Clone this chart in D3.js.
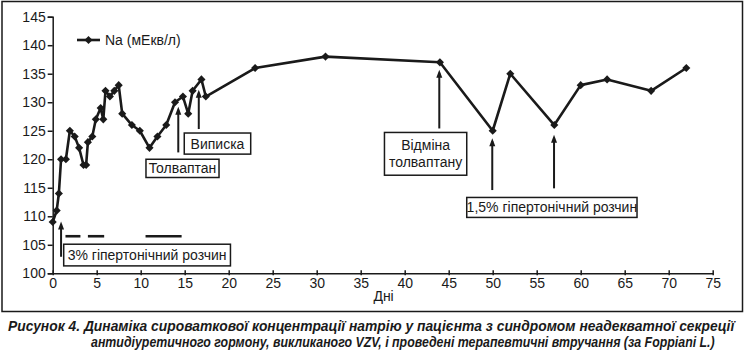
<!DOCTYPE html>
<html>
<head>
<meta charset="utf-8">
<script src="https://cdn.jsdelivr.net/npm/d3@7"></script>
<style>
  html, body { margin: 0; padding: 0; background: #fff; }
  svg { display: block; }
  text { font-family: "Liberation Sans", Arial, sans-serif; fill: #1a1a1a; }
</style>
</head>
<body>
<svg id="chart" width="747" height="356"></svg>
<script>
// ---- data ----
const days = [0,0.45,0.7,0.95,1.5,1.95,2.5,3,3.5,3.8,4,4.5,4.9,5.45,5.75,6,6.5,7,7.5,7.9,9,9.9,11,11.9,12.9,13.9,14.8,15.4,15.9,16.9,17.4,23,31,44,50,52,57,60,63,68,72];
const na   = [109,111,114,120,120,125,124,122,119,119,123,124,127,129,127,132,131,132,133,128,126,125,122,124,126,130,131,128,132,134,131,136,138,137,125,135,126,133,134,132,136];
const xTicks = [0,5,10,15,20,25,30,35,40,45,50,55,60,65,70,75];
const yTicks = [100,105,110,115,120,125,130,135,140,145];
const seriesName = "Na (мЕкв/л)";
const xTitle = "Дні";
const boxLabels = ["3% гіпертонічний розчин", "Толвaптан", "Виписка", ["Відміна", "толваптану"], "1,5% гіпертонічний розчин"];
const caption = [
  "Рисунок 4. Динаміка сироваткової концентрації натрію у пацієнта з синдромом неадекватної секреції",
  "антидіуретичного гормону, викликаного VZV, і проведені терапевтичні втручання (за Foppiani L.)"
];

const svg = d3.select("#chart");
const ink = "#1a1a1a";

// outer frame
svg.append("rect").attr("x", 2).attr("y", 1.5).attr("width", 740.5).attr("height", 310)
  .attr("fill", "none").attr("stroke", ink).attr("stroke-width", 1.5);

const x = d3.scaleLinear().domain([0, 75]).range([52.7, 712.7]);
const y = d3.scaleLinear().domain([100, 145]).range([273.3, 16.7]);

// axes
const yAxis = d3.axisLeft(y).tickValues(yTicks).tickSize(5).tickPadding(2);
const gy = svg.append("g").attr("transform", `translate(${x(0)},0)`).call(yAxis);
gy.select(".domain").attr("stroke", ink).attr("stroke-width", 1.5);
gy.selectAll(".tick line").attr("stroke", ink).attr("stroke-width", 1.5);
gy.selectAll(".tick text").attr("font-size", 14).attr("fill", ink)
  .style("font-family", "Liberation Sans, Arial, sans-serif");

const xAxis = d3.axisBottom(x).tickValues(xTicks).tickSize(0).tickPadding(5);
const gx = svg.append("g").attr("transform", `translate(0,${y(100)})`).call(xAxis);
gx.select(".domain").attr("stroke", ink).attr("stroke-width", 1.5);
gx.selectAll(".tick").append("line").attr("y1", -3).attr("y2", 2).attr("stroke", ink).attr("stroke-width", 1.5);
gx.selectAll(".tick text").attr("font-size", 14).attr("fill", ink)
  .style("font-family", "Liberation Sans, Arial, sans-serif");

svg.append("text").attr("x", (x(36.5)+x(38.7))/2).attr("y", 301).attr("text-anchor", "middle")
  .attr("font-size", 14).text(xTitle);

// series
const pts = days.map((d, i) => [d, na[i]]);
const line = d3.line().x(d => x(d[0])).y(d => y(d[1]));
svg.append("path").datum(pts).attr("d", line).attr("fill", "none")
  .attr("stroke", ink).attr("stroke-width", 2.6).attr("stroke-linejoin", "round");
const diamond = d3.symbol().type(d3.symbolDiamond2).size(42);
svg.append("g").selectAll("path").data(pts).join("path")
  .attr("transform", d => `translate(${x(d[0])},${y(d[1])})`)
  .attr("d", diamond).attr("fill", ink);

// legend
svg.append("line").attr("x1", 77).attr("x2", 100).attr("y1", 40).attr("y2", 40)
  .attr("stroke", ink).attr("stroke-width", 2.6);
svg.append("path").attr("transform", "translate(88.5,40)").attr("d", diamond).attr("fill", ink);
svg.append("text").attr("x", 105).attr("y", 45).attr("font-size", 14).text(seriesName);

// annotation helpers
function arrow(day, v0, v1) {
  const xx = x(day), yb = y(v0), yt = y(v1);
  svg.append("line").attr("x1", xx).attr("x2", xx).attr("y1", yb).attr("y2", yt + 3)
    .attr("stroke", ink).attr("stroke-width", 2);
  svg.append("path").attr("d", `M${xx},${yt} L${xx-3},${yt+8} L${xx+3},${yt+8} Z`).attr("fill", ink);
}
function box(d0, d1, vTop, vBot, lines) {
  const x0 = x(d0), x1 = x(d1), y0 = y(vTop), y1 = y(vBot);
  svg.append("rect").attr("x", x0).attr("y", y0).attr("width", x1 - x0).attr("height", y1 - y0)
    .attr("fill", "#fff").attr("stroke", ink).attr("stroke-width", 1.5);
  const arr = Array.isArray(lines) ? lines : [lines];
  const lh = 17;
  const cy = (y0 + y1) / 2;
  arr.forEach((t, i) => {
    svg.append("text").attr("x", (x0 + x1) / 2)
      .attr("y", cy + (i - (arr.length - 1) / 2) * lh + 5)
      .attr("text-anchor", "middle").attr("font-size", 14).text(t);
  });
}

// 3% hypertonic
arrow(0.95, 102.9, 109.1);
[[1.45, 3.15], [4.0, 5.85], [10.55, 14.65]].forEach(s => {
  svg.append("line").attr("x1", x(s[0])).attr("x2", x(s[1])).attr("y1", y(106.5)).attr("y2", y(106.5))
    .attr("stroke", ink).attr("stroke-width", 2.6);
});
box(1.25, 20.2, 105.1, 101.3, boxLabels[0]);

// Tolvaptan
arrow(14.27, 121.2, 129.2);
box(10.6, 18.9, 120.0, 116.8, boxLabels[1]);

// Discharge
arrow(16.6, 125.3, 132.2);
box(14.95, 22.5, 124.6, 120.9, boxLabels[2]);

// Tolvaptan withdrawal
arrow(43.93, 125.4, 135.7);
box(37.7, 47.05, 124.7, 117.2, boxLabels[3]);

// 1.5% hypertonic
arrow(49.95, 114.6, 123.7);
arrow(56.97, 114.9, 124.3);
box(47.05, 66.4, 113.3, 109.8, boxLabels[4]);

// caption: condensed bold italic, horizontally scaled to the reference width
function captionLine(t, x0, yb, w) {
  const el = svg.append("text").attr("x", 0).attr("y", 0).attr("font-size", 14)
    .attr("font-weight", "bold").attr("font-style", "italic").text(t);
  const nat = el.node().getComputedTextLength();
  el.attr("transform", `translate(${x0},${yb}) scale(${w / nat},1)`);
}
captionLine(caption[0], 8, 331, 727);
captionLine(caption[1], 91, 347, 624);
</script>
</body>
</html>
